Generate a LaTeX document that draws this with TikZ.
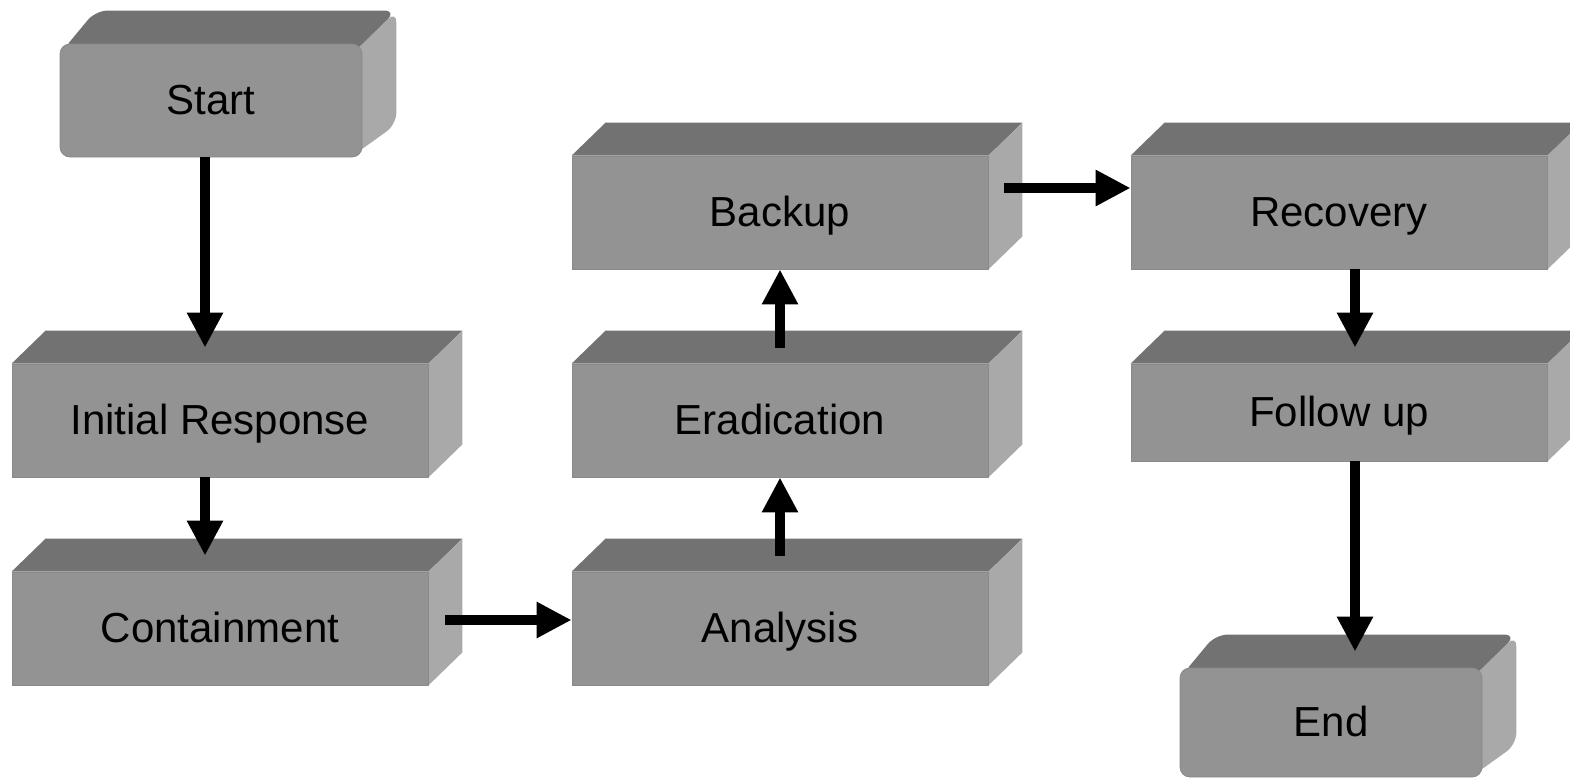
\documentclass[tikz,border=0pt]{standalone}
\usepackage{fontspec}
\setmainfont{Liberation Sans}
\usetikzlibrary{arrows.meta,calc,backgrounds}
\definecolor{frontc}{HTML}{939393}
\definecolor{topc}{HTML}{727272}
\definecolor{sidec}{HTML}{A9A9A9}
\definecolor{edgec}{HTML}{8A8A8A}
\tikzset{
  front/.style={fill=frontc, draw=edgec, line width=0.4pt, inner sep=0pt,
    font=\fontsize{21pt}{24pt}\selectfont, text=black, text height=14pt, text depth=0pt},
  wide/.style={front, minimum width=208pt, minimum height=56.5pt},
  narrow/.style={front, minimum width=151pt, minimum height=56.5pt, rounded corners=5pt},
  arr/.style={line width=5pt, -{Triangle[length=17.5pt,width=17pt]}},
}
\newcommand\cubefaces[1]{%
  \begin{scope}[on background layer]
  \fill[topc] (#1.north west) -- ++(34,-33) -- ($(#1.north east)+(34,-33)$) -- (#1.north east) -- cycle;
  \fill[sidec] (#1.north east) -- ++(34,-33) -- ($(#1.south east)+(34,-33)$) -- (#1.south east) -- cycle;
  \end{scope}
}
\newcommand\roundfaces[1]{%
  \begin{scope}[on background layer]
  \fill[sidec, rounded corners=6pt] ($(#1.north east)+(-12,12)$) -- ($(#1.north east)+(34,-33)$) -- ($(#1.south east)+(34,-33)$) -- ($(#1.south east)+(-12,0)$) -- cycle;
  \fill[topc, rounded corners=6pt] ($(#1.north west)+(2,8)$) -- ($(#1.north west)+(36,-33)$) -- ($(#1.north east)+(34,-33)$) -- ($(#1.north east)+(-12,12)$) -- cycle;
  \end{scope}
}
\begin{document}
\begin{tikzpicture}[x=0.5pt,y=-0.5pt]
\useasboundingbox (0,0) rectangle (1570,778);
\clip (0,0) rectangle (1570,778);
\node[narrow] (start) at (211,100.5) {Start};
\node[wide] (ir) at (220,420.5) {Initial Response};
\node[wide] (cont) at (220,628.5) {Containment};
\node[wide] (ana) at (780,628.5) {Analysis};
\node[wide] (era) at (780,420.5) {Eradication};
\node[wide] (bak) at (780,212.5) {Backup};
\node[wide] (rec) at (1339,212.5) {Recovery};
\node[wide, minimum height=48.5pt] (fu) at (1339,412.5) {Follow up};
\node[narrow, minimum height=54.5pt] (en) at (1331,722.5) {End};
\roundfaces{start}
\cubefaces{ir}
\cubefaces{cont}
\cubefaces{ana}
\cubefaces{era}
\cubefaces{bak}
\cubefaces{rec}
\cubefaces{fu}
\roundfaces{en}
\draw[arr, shorten >=8pt] ([xshift=-3pt]start.south) -- ([xshift=-3pt]start.south |- ir.north);
\draw[arr, shorten >=8pt] ([xshift=-7.5pt]ir.south) -- ([xshift=-7.5pt]ir.south |- cont.north);
\draw[arr] ([xshift=8.5pt,yshift=4.25pt]cont.east) -- ([yshift=4.25pt]ana.west);
\draw[arr] ([yshift=8pt]ana.north) -- (era.south);
\draw[arr] ([yshift=8pt]era.north) -- (bak.south);
\draw[arr] ([xshift=8pt,yshift=12.25pt]bak.east) -- ([yshift=12.25pt]rec.west);
\draw[arr, shorten >=8pt] ([xshift=8pt]rec.south) -- ([xshift=8pt]rec.south |- fu.north);
\draw[arr, shorten >=8pt] ([xshift=8pt]fu.south) -- ([xshift=8pt]fu.south |- en.north);
\end{tikzpicture}
\end{document}
